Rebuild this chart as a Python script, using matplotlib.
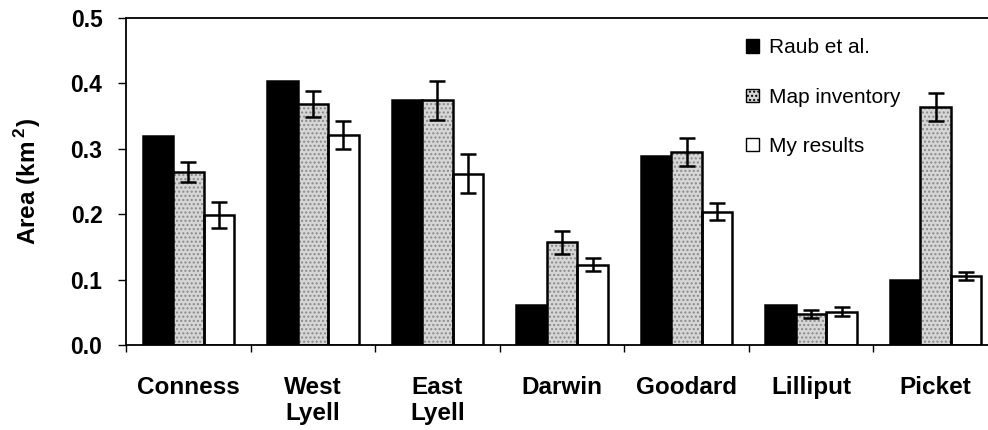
import numpy as np
import matplotlib
matplotlib.use("Agg")
import matplotlib.pyplot as plt
from matplotlib.patches import Patch

plt.rcParams['font.family'] = ['Liberation Sans', 'DejaVu Sans']
plt.rcParams['mathtext.fontset'] = 'custom'
plt.rcParams['mathtext.bf'] = 'Liberation Sans:bold'
plt.rcParams['mathtext.rm'] = 'Liberation Sans:bold'

glaciers = ["Conness", "West\nLyell", "East\nLyell", "Darwin", "Goodard", "Lilliput", "Picket"]
raub = [0.320, 0.404, 0.374, 0.061, 0.289, 0.061, 0.099]
map_inv = [0.265, 0.368, 0.374, 0.157, 0.295, 0.048, 0.364]
map_err = [0.015, 0.020, 0.030, 0.018, 0.022, 0.006, 0.022]
mine = [0.199, 0.321, 0.262, 0.123, 0.204, 0.051, 0.105]
mine_err = [0.020, 0.021, 0.030, 0.010, 0.013, 0.007, 0.006]
series_names = ["Raub et al.", "Map inventory", "My results"]

fig = plt.figure(figsize=(9.88, 4.30), dpi=100)
ax = fig.add_axes([126/988, 85/430, 872/988, 327/430])

x = np.arange(len(glaciers)) + 0.5
w = 0.245
lw = 1.8

ax.bar(x - w, raub, w, color="black", edgecolor="black", linewidth=lw, zorder=2)
# stippled gray fill, then outline
ax.bar(x, map_inv, w, color="#d6d6d6", hatch="....", edgecolor="#8a8a8a", linewidth=0, zorder=2)
ax.bar(x, map_inv, w, fill=False, edgecolor="black", linewidth=lw, zorder=3)
ax.bar(x + w, mine, w, color="white", edgecolor="black", linewidth=lw, zorder=2)

ekw = dict(fmt="none", ecolor="black", elinewidth=1.8, capsize=5.5, capthick=1.8, zorder=4)
ax.errorbar(x, map_inv, yerr=map_err, **ekw)
ax.errorbar(x + w, mine, yerr=mine_err, **ekw)

ax.set_xlim(0, len(glaciers))
ax.set_ylim(0, 0.5)
ax.set_yticks([0.0, 0.1, 0.2, 0.3, 0.4, 0.5])
ax.set_yticklabels(["0.0", "0.1", "0.2", "0.3", "0.4", "0.5"], fontsize=16.5, fontweight="bold")
ax.set_xticks(np.arange(len(glaciers) + 1))
ax.set_xticklabels([])
ax.set_xticks(x, minor=True)
ax.set_xticklabels(glaciers, minor=True, fontsize=17.5, fontweight="bold", linespacing=1.2)
ax.tick_params(axis="x", which="minor", length=0, pad=22)
ax.tick_params(axis="x", which="major", length=5, width=1, direction="out")
ax.tick_params(axis="y", length=6, width=1, direction="out", pad=11)
for s in ax.spines.values():
    s.set_linewidth(1.3)

ax.set_ylabel(r"Area (km$\,^{\mathbf{2}}$)", fontsize=17.5, fontweight="bold", labelpad=20)

handles = [Patch(facecolor="black", edgecolor="black"),
           Patch(facecolor="#d6d6d6", hatch="....", edgecolor="black"),
           Patch(facecolor="white", edgecolor="black")]
leg = ax.legend(handles, series_names, loc="upper left", bbox_to_anchor=(0.69, 0.995),
                frameon=False, fontsize=15, handlelength=0.62, handleheight=0.62,
                handletextpad=0.45, labelspacing=1.45)

fig.savefig("out.png", dpi=100)
